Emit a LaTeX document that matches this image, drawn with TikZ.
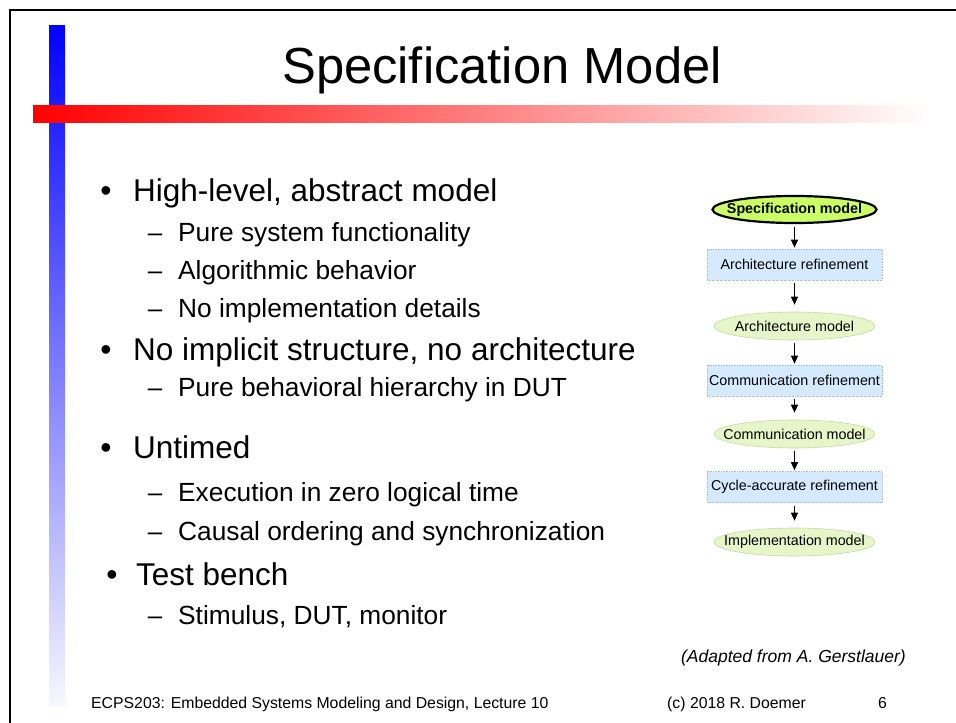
\documentclass[tikz,border=0pt]{standalone}
\usepackage{fontspec}
\setmainfont{Liberation Sans}
\usetikzlibrary{shapes.geometric,arrows.meta}
\definecolor{boxblue}{RGB}{214,234,255}
\definecolor{boxedge}{RGB}{170,190,210}
\definecolor{ellgreen}{RGB}{230,246,200}
\definecolor{elledge}{RGB}{200,215,170}
\definecolor{specgreen}{RGB}{204,255,102}
\tikzset{
  lvlone/.style={anchor=base west, inner sep=0pt, font=\fontsize{31.5}{36}\selectfont},
  lvltwo/.style={anchor=base west, inner sep=0pt, font=\fontsize{26.3}{31}\selectfont},
  bul/.style={anchor=base, inner sep=0pt, font=\fontsize{32}{36}\selectfont},
  smallbul/.style={anchor=base, inner sep=0pt, font=\fontsize{26}{30}\selectfont},
  footer/.style={anchor=base west, inner sep=0pt, font=\fontsize{15.8}{18}\selectfont},
  refbox/.style={rectangle, minimum width=175pt, minimum height=31pt, inner sep=0pt, fill=boxblue, draw=boxedge, densely dotted, line width=0.6pt, font=\fontsize{14.3}{16}\selectfont},
  modell/.style={ellipse, minimum width=161pt, minimum height=28pt, inner xsep=-30pt, inner ysep=0pt, fill=ellgreen, draw=elledge, line width=0.6pt, font=\fontsize{14.3}{16}\selectfont},
  specell/.style={ellipse, minimum width=164pt, minimum height=27pt, inner xsep=-30pt, inner ysep=0pt, fill=specgreen, draw=black, line width=2.2pt, font=\bfseries\fontsize{14.3}{16}\selectfont},
  flow/.style={-{Triangle[length=8pt,width=7pt]}, line width=0.9pt, shorten <=3pt},
  intobox/.style={flow, shorten >=1pt},
  intoell/.style={flow, shorten >=7pt}
}
\begin{document}
\begin{tikzpicture}[x=1pt,y=-1pt]
\useasboundingbox (0,0) rectangle (956,723);
\fill[white] (0,0) rectangle (956,723);
\begin{scope}
\clip (0,0) rectangle (956,723);
\draw[line width=2pt] (10,10) rectangle (990,760);
\end{scope}
% decorative bars
\shade[top color=blue, bottom color=blue!3!white] (49,25) rectangle (65,705);
\shade[left color=red, right color=white] (33,105) rectangle (930,122);
% title
\node[anchor=base, inner sep=0pt, font=\fontsize{50.7}{56}\selectfont] (title) at (502,83) {Specification Model};
% bullets
\node[bul] (b1) at (106,201) {•};
\node[lvlone] (t1) at (133,201) {High-level, abstract model};
\node[smallbul] (d11) at (155,241) {–};
\node[lvltwo] (t11) at (178,241) {Pure system functionality};
\node[smallbul] (d12) at (155,279) {–};
\node[lvltwo] (t12) at (178,279) {Algorithmic behavior};
\node[smallbul] (d13) at (155,317) {–};
\node[lvltwo] (t13) at (178,317) {No implementation details};
\node[bul] (b2) at (106,360) {•};
\node[lvlone] (t2) at (133,360) {No implicit structure, no architecture};
\node[smallbul] (d21) at (155,396) {–};
\node[lvltwo] (t21) at (178,396) {Pure behavioral hierarchy in DUT};
\node[bul] (b3) at (106,458) {•};
\node[lvlone] (t3) at (133,458) {Untimed};
\node[smallbul] (d31) at (155,501) {–};
\node[lvltwo] (t31) at (178,501) {Execution in zero logical time};
\node[smallbul] (d32) at (155,540) {–};
\node[lvltwo] (t32) at (178,540) {Causal ordering and synchronization};
\node[bul] (b4) at (112,585) {•};
\node[lvlone] (t4) at (136,585) {Test bench};
\node[smallbul] (d41) at (155,624) {–};
\node[lvltwo] (t41) at (178,624) {Stimulus, DUT, monitor};
% flow diagram
\node[specell] (spec) at (794.5,209.5) {Specification model};
\node[refbox] (archref) at (794.5,264.5) {Architecture refinement};
\node[modell] (archmod) at (794.5,326) {Architecture model};
\node[refbox] (commref) at (794.5,380.5) {Communication refinement};
\node[modell] (commmod) at (794.5,434) {Communication model};
\node[refbox] (cycref) at (794.5,487) {Cycle-accurate refinement};
\node[modell] (implmod) at (794.5,542) {Implementation model};
\draw[intobox] (spec) -- (archref);
\draw[intoell] (archref) -- (archmod);
\draw[intobox] (archmod) -- (commref);
\draw[intoell] (commref) -- (commmod);
\draw[intobox] (commmod) -- (cycref);
\draw[intoell] (cycref) -- (implmod);
% credits and footer
\node[anchor=base east, inner sep=0pt, font=\itshape\fontsize{17.5}{20}\selectfont] (adapted) at (906,662) {(Adapted from A. Gerstlauer)};
\node[footer] (course) at (91,708) {ECPS203: Embedded Systems Modeling and Design, Lecture 10};
\node[footer] (copy) at (667,708) {(c) 2018 R. Doemer};
\node[footer] (page) at (878,708) {6};
\end{tikzpicture}
\end{document}
